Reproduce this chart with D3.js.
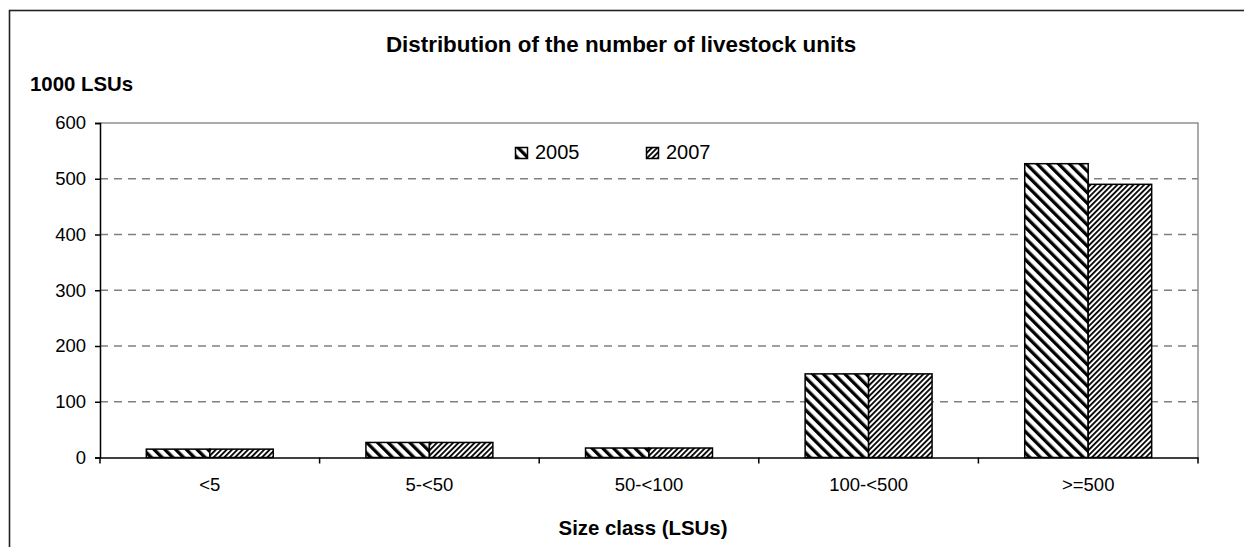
<!DOCTYPE html>
<html>
<head>
<meta charset="utf-8">
<script src="https://cdn.jsdelivr.net/npm/d3@7"></script>
<style>
  body { margin: 0; background: #fff; }
  text { font-family: Arial, "Liberation Sans", sans-serif; fill: #000; }
</style>
</head>
<body>
<div id="chart_container"></div>
<script>
const categories = ["<5", "5-<50", "50-<100", "100-<500", ">=500"];
const seriesNames = ["2005", "2007"];
const values2005 = [15, 27, 17, 150, 527];
const values2007 = [15, 27, 17, 150, 490];
const yTicks = [0, 100, 200, 300, 400, 500, 600];

function DrawChart() {
    const width = 1244, height = 547;
    const plot = {left: 100, right: 1198, top: 123, bottom: 457.5};

    d3.select("#chart_container").selectAll("*").remove();

    const svg = d3.select("#chart_container")
        .append("svg")
        .attr("width", width)
        .attr("height", height);

    // hatch patterns, 2005 wide "\" and 2007 narrow "/"
    const defs = svg.append("defs");
    const p1 = defs.append("pattern")
        .attr("id", "hatch2005")
        .attr("patternUnits", "userSpaceOnUse")
        .attr("width", 7.6).attr("height", 7.6)
        .attr("patternTransform", "rotate(-45)");
    p1.append("rect").attr("width", 7.6).attr("height", 7.6).attr("fill", "#fff");
    p1.append("rect").attr("width", 3.3).attr("height", 7.6).attr("fill", "#000");

    const p2 = defs.append("pattern")
        .attr("id", "hatch2007")
        .attr("patternUnits", "userSpaceOnUse")
        .attr("width", 3.8).attr("height", 3.8)
        .attr("patternTransform", "rotate(45)");
    p2.append("rect").attr("width", 3.8).attr("height", 3.8).attr("fill", "#fff");
    p2.append("rect").attr("width", 1.8).attr("height", 3.8).attr("fill", "#000");

    const fills = ["url(#hatch2005)", "url(#hatch2007)"];

    // outer chart border
    svg.append("rect")
        .attr("x", 9.5).attr("y", 10.5)
        .attr("width", 1400).attr("height", 700)
        .attr("fill", "none")
        .attr("stroke", "#222")
        .attr("stroke-width", 1.6);

    const x = d3.scaleBand()
        .domain(categories)
        .range([plot.left, plot.right])
        .paddingInner(0).paddingOuter(0);

    const xs = d3.scaleBand()
        .domain(seriesNames)
        .range([0, x.bandwidth()])
        .paddingInner(0).paddingOuter(0.73);

    const y = d3.scaleLinear()
        .domain([0, 600])
        .range([plot.bottom, plot.top]);

    // gridlines
    svg.append("g")
        .selectAll("line")
        .data(yTicks.filter(d => d > 0 && d < 600))
        .enter()
        .append("line")
            .attr("x1", plot.left).attr("x2", plot.right)
            .attr("y1", d => y(d)).attr("y2", d => y(d))
            .attr("stroke", "#808080")
            .attr("stroke-width", 1.5)
            .attr("stroke-dasharray", "8,6");

    // plot border top and right
    svg.append("path")
        .attr("d", `M${plot.left},${y(600)}H${plot.right}V${plot.bottom}`)
        .attr("fill", "none")
        .attr("stroke", "#909090")
        .attr("stroke-width", 1.5);

    // bars
    const data = categories.map((c, i) => ({cat: c, vals: [values2005[i], values2007[i]]}));
    svg.append("g")
        .selectAll("g")
        .data(data)
        .enter()
        .append("g")
            .attr("transform", d => `translate(${x(d.cat)},0)`)
        .selectAll("rect")
        .data(d => d.vals.map((v, j) => ({series: seriesNames[j], value: v, j: j})))
        .enter()
        .append("rect")
            .attr("x", d => xs(d.series))
            .attr("y", d => y(d.value))
            .attr("width", xs.bandwidth())
            .attr("height", d => y(0) - y(d.value))
            .attr("fill", d => fills[d.j])
            .attr("stroke", "#000")
            .attr("stroke-width", 1.5);

    // y axis
    const yAxis = svg.append("g")
        .attr("transform", `translate(${plot.left},0)`)
        .call(d3.axisLeft(y).tickValues(yTicks).tickSize(5).tickPadding(9));
    yAxis.select(".domain").attr("stroke", "#000").attr("stroke-width", 1.5);
    yAxis.selectAll(".tick line").attr("stroke", "#000").attr("stroke-width", 1.5);
    yAxis.selectAll(".tick text")
        .attr("font-size", 18.5)
        .attr("font-family", "Arial, 'Liberation Sans', sans-serif")
        .attr("fill", "#000");

    // x axis
    const xAxis = svg.append("g")
        .attr("transform", `translate(0,${plot.bottom})`)
        .call(d3.axisBottom(x).tickSize(0).tickPadding(20));
    xAxis.select(".domain").attr("stroke", "#000").attr("stroke-width", 1.5);
    xAxis.selectAll(".tick text")
        .attr("font-size", 18.5)
        .attr("font-family", "Arial, 'Liberation Sans', sans-serif")
        .attr("fill", "#000");
    // category separator ticks
    svg.append("g")
        .selectAll("line")
        .data(categories.concat(["end"]))
        .enter()
        .append("line")
            .attr("x1", (d, i) => i < categories.length ? x(d) : plot.right)
            .attr("x2", (d, i) => i < categories.length ? x(d) : plot.right)
            .attr("y1", plot.bottom).attr("y2", plot.bottom + 6)
            .attr("stroke", "#000").attr("stroke-width", 1.5);

    // titles
    svg.append("text")
        .attr("x", 621).attr("y", 52)
        .attr("text-anchor", "middle")
        .attr("font-size", 22.4).attr("font-weight", "bold")
        .text("Distribution of the number of livestock units");

    svg.append("text")
        .attr("x", 30).attr("y", 91)
        .attr("font-size", 20.4).attr("font-weight", "bold")
        .text("1000 LSUs");

    svg.append("text")
        .attr("x", 643).attr("y", 535)
        .attr("text-anchor", "middle")
        .attr("font-size", 20.4).attr("font-weight", "bold")
        .text("Size class (LSUs)");

    // legend
    const legendX = [515, 646];
    const legend = svg.append("g")
        .selectAll("g")
        .data(seriesNames)
        .enter()
        .append("g")
            .attr("transform", (d, i) => `translate(${legendX[i]},147)`);
    legend.append("rect")
        .attr("x", 0.5).attr("y", 0.5)
        .attr("width", 12).attr("height", 11)
        .attr("fill", (d, i) => fills[i])
        .attr("stroke", "#000").attr("stroke-width", 1.5);
    legend.append("text")
        .attr("x", 20).attr("y", 12)
        .attr("font-size", 20)
        .text(d => d);
}

DrawChart();
</script>
</body>
</html>
